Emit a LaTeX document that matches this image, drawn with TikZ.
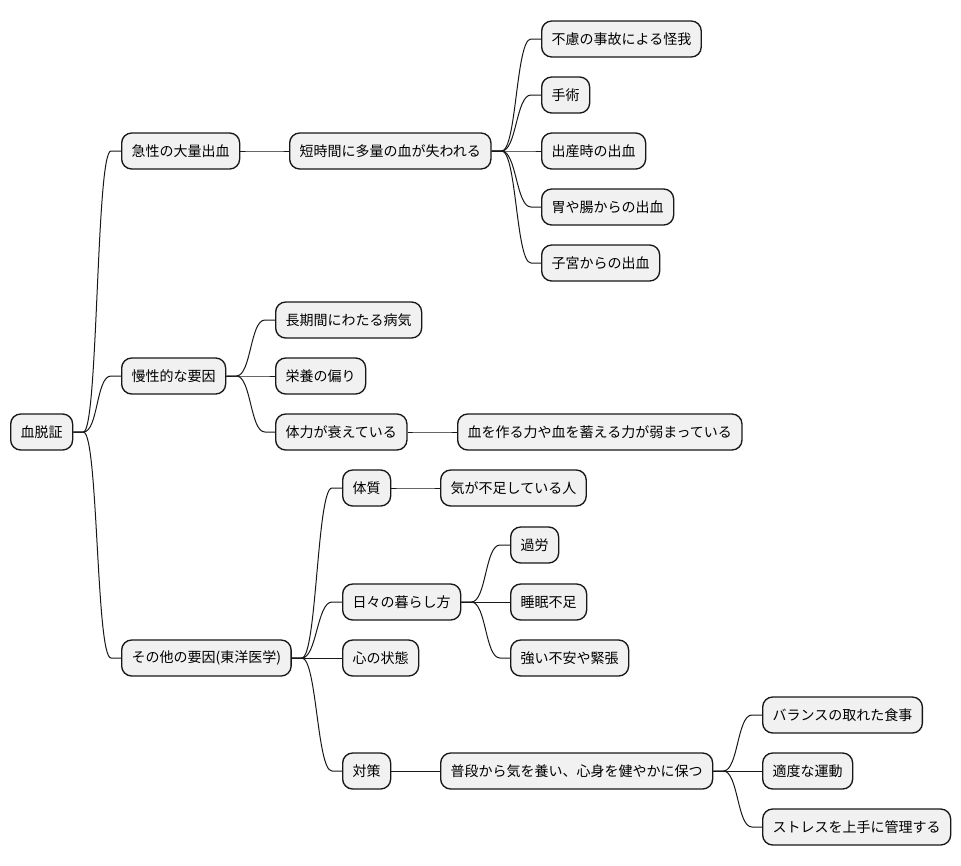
\documentclass[tikz,border=0pt]{standalone}
\usepackage{fontspec}
\setmainfont{Noto Sans CJK JP}
\usetikzlibrary{calc}
\definecolor{boxfill}{HTML}{F1F1F1}
\definecolor{boxline}{HTML}{181818}
\tikzset{
  mm/.style={draw=boxline, fill=boxfill, line width=1pt, rounded corners=7.5pt,
    minimum height=27pt, inner xsep=7.5pt, inner ysep=0pt, anchor=west,
    font=\fontsize{10.5pt}{12pt}\selectfont, text=black},
  mmline/.style={draw=boxline, line width=0.75pt}
}
\newcommand\mmlink[2]{\draw[mmline] (#1.east) -- ++(10,0) .. controls +(15,0) and +(-15,0) .. ($(#2.west)+(-10,0)$) -- (#2.west);}
\begin{document}
\begin{tikzpicture}[x=0.75pt,y=-0.75pt]
\fill[white] (0,0) rectangle (961,865);
\useasboundingbox (0,0) rectangle (961,865);
\node[mm] (r) at (10,432) {血脱証};
\node[mm] (a1) at (121,151) {急性の大量出血};
\node[mm] (a2) at (289,151) {短時間に多量の血が失われる};
\node[mm] (a3) at (541,39) {不慮の事故による怪我};
\node[mm] (a4) at (541,95) {手術};
\node[mm] (a5) at (541,151) {出産時の出血};
\node[mm] (a6) at (541,207) {胃や腸からの出血};
\node[mm] (a7) at (541,263) {子宮からの出血};
\node[mm] (b1) at (121,376) {慢性的な要因};
\node[mm] (b2) at (275,320) {長期間にわたる病気};
\node[mm] (b3) at (275,376) {栄養の偏り};
\node[mm] (b4) at (275,432) {体力が衰えている};
\node[mm] (b5) at (457,432) {血を作る力や血を蓄える力が弱まっている};
\node[mm] (c1) at (121,658) {その他の要因(東洋医学)};
\node[mm] (c2) at (342,488) {体質};
\node[mm] (c3) at (440,488) {気が不足している人};
\node[mm] (c4) at (342,602) {日々の暮らし方};
\node[mm] (c5) at (510,545) {過労};
\node[mm] (c6) at (510,602) {睡眠不足};
\node[mm] (c7) at (510,658) {強い不安や緊張};
\node[mm] (c8) at (342,658) {心の状態};
\node[mm] (c9) at (342,771) {対策};
\node[mm] (c10) at (440,771) {普段から気を養い、心身を健やかに保つ};
\node[mm] (c11) at (762,715) {バランスの取れた食事};
\node[mm] (c12) at (762,771) {適度な運動};
\node[mm] (c13) at (762,827) {ストレスを上手に管理する};
\mmlink{r}{a1}
\mmlink{r}{b1}
\mmlink{r}{c1}
\mmlink{a1}{a2}
\mmlink{a2}{a3}
\mmlink{a2}{a4}
\mmlink{a2}{a5}
\mmlink{a2}{a6}
\mmlink{a2}{a7}
\mmlink{b1}{b2}
\mmlink{b1}{b3}
\mmlink{b1}{b4}
\mmlink{b4}{b5}
\mmlink{c1}{c2}
\mmlink{c1}{c4}
\mmlink{c1}{c8}
\mmlink{c1}{c9}
\mmlink{c2}{c3}
\mmlink{c4}{c5}
\mmlink{c4}{c6}
\mmlink{c4}{c7}
\mmlink{c9}{c10}
\mmlink{c10}{c11}
\mmlink{c10}{c12}
\mmlink{c10}{c13}
\end{tikzpicture}
\end{document}
